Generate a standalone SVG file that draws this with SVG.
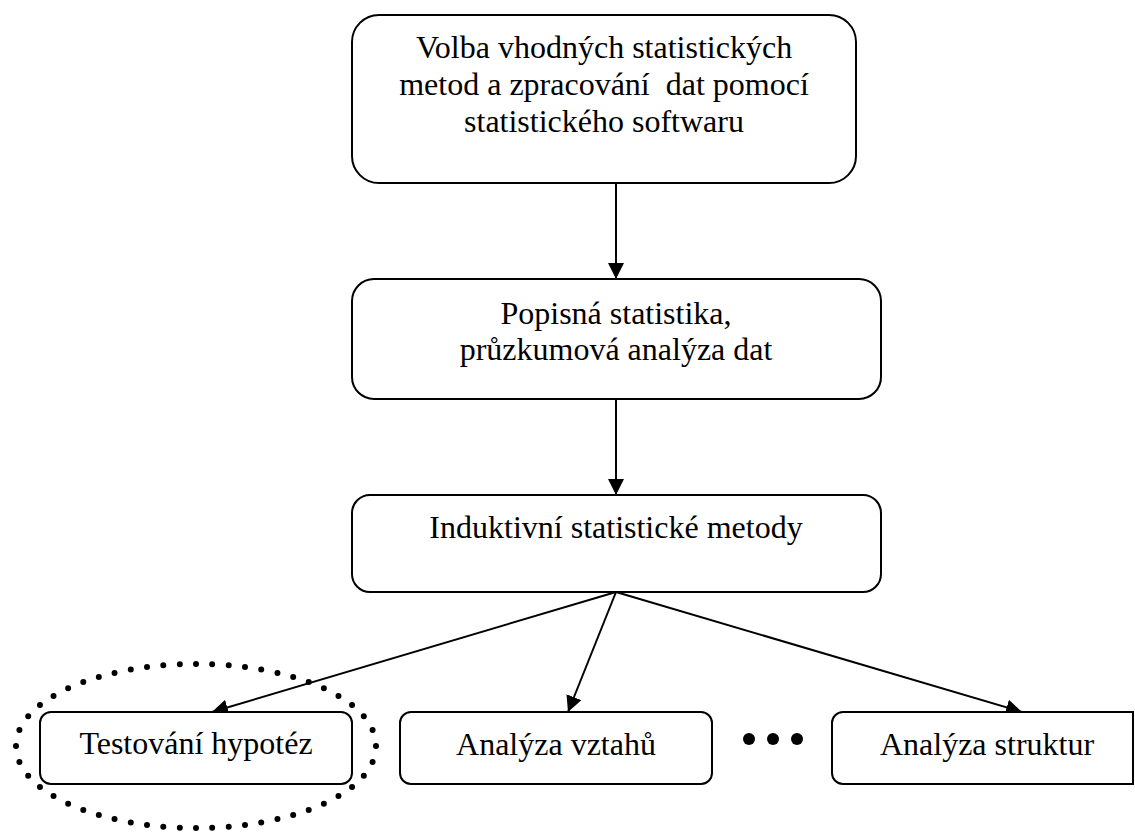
<svg xmlns="http://www.w3.org/2000/svg" width="1135" height="832" viewBox="0 0 1135 832">
  <defs>
    <marker id="arrow" viewBox="0 0 16 16" refX="16" refY="8" markerWidth="16" markerHeight="16" markerUnits="userSpaceOnUse" orient="auto">
      <path d="M0,0 L16,8 L0,16 Z" fill="#000"/>
    </marker>
    <style>
      .box { fill: #fff; stroke: #000; stroke-width: 2; }
      .lbl { font-family: "Liberation Serif", "Times New Roman", serif; font-size: 32px; fill: #000; text-anchor: middle; }
      .edge { fill: none; stroke: #000; stroke-width: 2; marker-end: url(#arrow); }
      .ring { fill: none; stroke: #000; stroke-width: 6; stroke-linecap: round; stroke-dasharray: 0 1; }
    </style>
  </defs>
  <rect width="1135" height="832" fill="#fff"/>

  <!-- connectors -->
  <g id="connectors">
    <line class="edge" x1="616" y1="183" x2="616" y2="279"/>
    <line class="edge" x1="616" y1="399" x2="616" y2="495"/>
    <line class="edge" x1="616" y1="592" x2="212" y2="712"/>
    <line class="edge" x1="616" y1="592" x2="568" y2="712"/>
    <line class="edge" x1="616" y1="592" x2="1022" y2="712"/>
  </g>

  <g id="n-volba">
    <rect class="box" x="352" y="15" width="504" height="168" rx="27" ry="27"/>
    <text class="lbl" x="604" y="58">Volba vhodných statistických</text>
    <text class="lbl" x="604" y="95" xml:space="preserve">metod a zpracování  dat pomocí</text>
    <text class="lbl" x="604" y="132">statistického softwaru</text>
  </g>

  <g id="n-popisna">
    <rect class="box" x="352" y="279" width="529" height="120" rx="22" ry="22"/>
    <text class="lbl" x="616" y="324">Popisná statistika,</text>
    <text class="lbl" x="616" y="360">průzkumová analýza dat</text>
  </g>

  <g id="n-induktivni">
    <rect class="box" x="352" y="495" width="529" height="97" rx="18" ry="18"/>
    <text class="lbl" x="616" y="538">Induktivní statistické metody</text>
  </g>

  <g id="n-testovani">
    <rect class="box" x="40" y="712" width="312" height="72" rx="11" ry="11"/>
    <text class="lbl" x="196" y="754">Testování hypotéz</text>
    <!-- dotted highlight ring -->
    <path class="ring" pathLength="52" d="M196,664 A180,82 0 1 1 196,828 A180,82 0 1 1 196,664"/>
  </g>

  <g id="n-vztahy">
    <rect class="box" x="400" y="712" width="312" height="72" rx="11" ry="11"/>
    <text class="lbl" x="556" y="755">Analýza vztahů</text>
  </g>

  <g id="ellipsis">
    <circle cx="749" cy="739" r="6"/>
    <circle cx="773" cy="739" r="6"/>
    <circle cx="797" cy="739" r="6"/>
  </g>

  <g id="n-struktury">
    <path class="box" d="M843,712 H1133 V784 H843 A11,11 0 0 1 832,773 V723 A11,11 0 0 1 843,712 Z"/>
    <text class="lbl" x="987" y="755">Analýza struktur</text>
  </g>
</svg>
